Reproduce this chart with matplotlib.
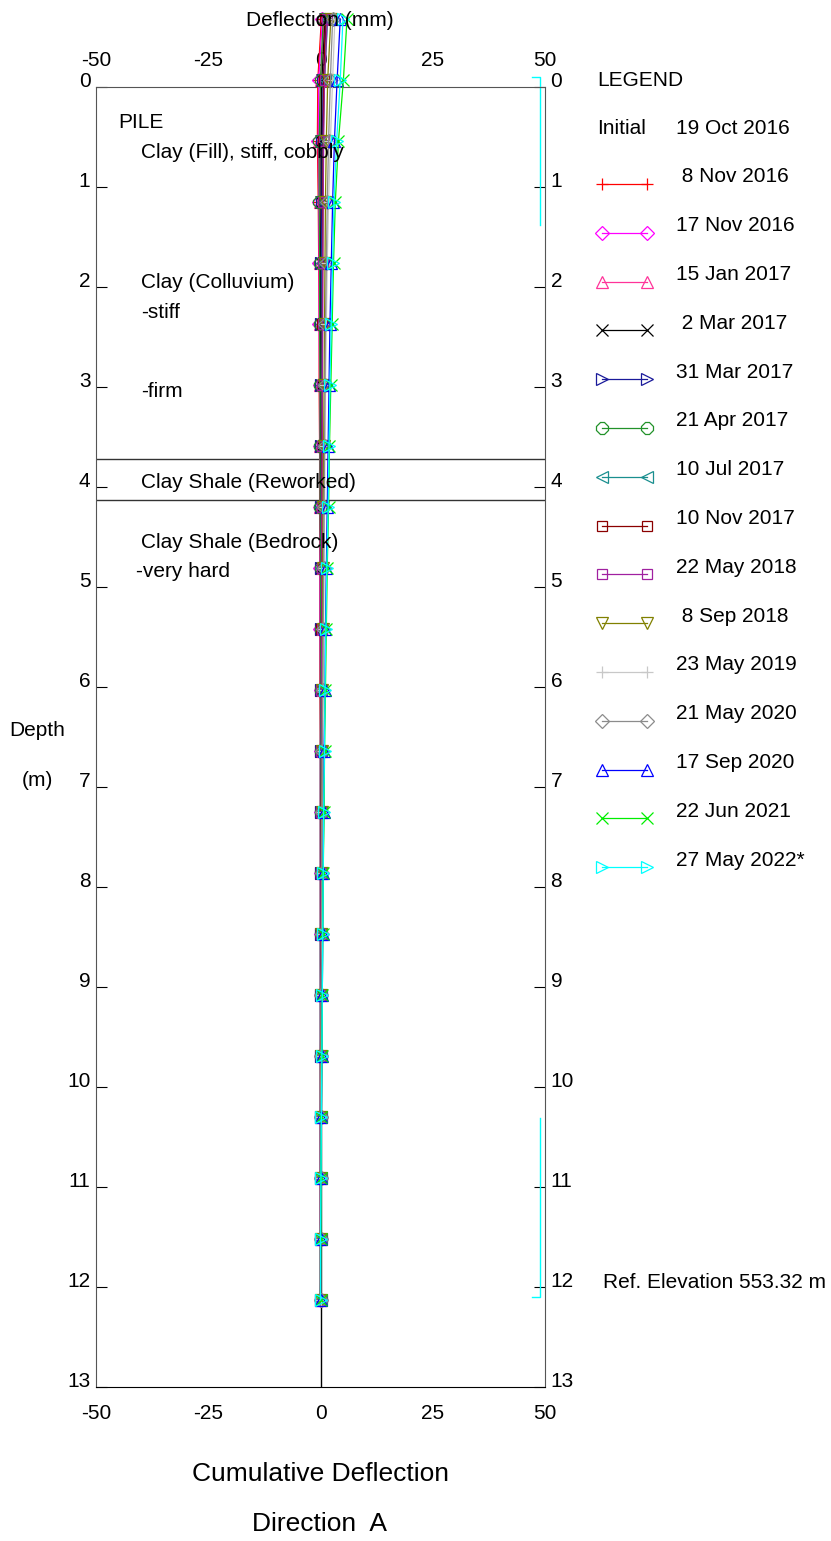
import matplotlib
matplotlib.use("Agg")
import matplotlib.pyplot as plt
import numpy as np

plt.rcParams['font.family'] = ['Liberation Sans', 'DejaVu Sans']
plt.rcParams['axes.unicode_minus'] = False

W, H = 831, 1541

# depth of each reading (m), top to bottom
depths = [-0.68, -0.07, 0.54, 1.15, 1.76, 2.37, 2.98, 3.59, 4.20, 4.81, 5.42,
          6.03, 6.64, 7.25, 7.86, 8.47, 9.08, 9.69, 10.30, 10.91, 11.52, 12.13]

dates = [" 8 Nov 2016", "17 Nov 2016", "15 Jan 2017", " 2 Mar 2017", "31 Mar 2017",
         "21 Apr 2017", "10 Jul 2017", "10 Nov 2017", "22 May 2018", " 8 Sep 2018",
         "23 May 2019", "21 May 2020", "17 Sep 2020", "22 Jun 2021", "27 May 2022*"]
colors = ["#ff0000", "#ff00ff", "#ff3399", "#000000", "#1a1a9a",
          "#22922a", "#1a8f8f", "#8b0000", "#a020a0", "#808000",
          "#c8c8c8", "#8c8c8c", "#0000ff", "#00ee00", "#00ffff"]
markers = ["+", "D", "^", "x", ">", "8", "<", "s", "s", "v", "+", "D", "^", "x", ">"]

# cumulative deflection (mm) per reading, top to bottom
defl = [
    [0.2, -0.6, -0.7, -0.5, -0.4, -0.3, -0.3, -0.2, -0.2, -0.1, -0.1, -0.1, 0.0, 0.0, 0.0, 0.0, 0.0, 0.0, 0.0, 0.0, 0.0, 0.0],
    [0.4, -0.4, -0.5, -0.4, -0.3, -0.3, -0.2, -0.2, -0.1, -0.1, -0.1, 0.0, 0.0, 0.0, 0.0, 0.0, 0.0, 0.0, 0.0, 0.0, 0.0, 0.0],
    [0.8, 0.0, -0.3, -0.2, -0.2, -0.2, -0.1, -0.1, -0.1, 0.0, 0.0, 0.0, 0.0, 0.0, 0.0, 0.0, 0.0, 0.0, 0.0, 0.0, 0.0, 0.0],
    [1.0, 0.3, 0.1, 0.1, 0.0, 0.0, 0.0, 0.0, 0.0, 0.0, 0.0, 0.0, 0.0, 0.0, 0.0, 0.0, 0.0, 0.0, 0.0, 0.0, 0.0, 0.0],
    [1.3, 0.6, 0.4, 0.3, 0.2, 0.2, 0.2, 0.1, 0.1, 0.1, 0.1, 0.1, 0.0, 0.0, 0.0, 0.0, 0.0, 0.0, 0.0, 0.0, 0.0, 0.0],
    [0.6, 0.0, -0.3, -0.3, -0.2, -0.2, -0.1, -0.1, -0.1, 0.0, 0.0, 0.0, 0.0, 0.0, 0.0, 0.0, 0.0, 0.0, 0.0, 0.0, 0.0, 0.0],
    [1.6, 0.9, 0.6, 0.5, 0.4, 0.4, 0.3, 0.3, 0.2, 0.2, 0.2, 0.1, 0.1, 0.1, 0.1, 0.0, 0.0, 0.0, 0.0, 0.0, 0.0, 0.0],
    [1.1, 0.7, 0.6, 0.5, 0.5, 0.4, 0.4, 0.3, 0.3, 0.3, 0.2, 0.2, 0.2, 0.1, 0.1, 0.1, 0.1, 0.0, 0.0, 0.0, 0.0, 0.0],
    [1.5, 0.9, 0.7, 0.6, 0.5, 0.5, 0.4, 0.4, 0.3, 0.3, 0.3, 0.2, 0.2, 0.2, 0.1, 0.1, 0.1, 0.1, 0.0, 0.0, 0.0, 0.0],
    [2.3, 1.6, 1.3, 1.1, 1.0, 0.9, 0.8, 0.7, 0.6, 0.5, 0.5, 0.4, 0.4, 0.3, 0.3, 0.2, 0.2, 0.1, 0.1, 0.1, 0.0, 0.0],
    [3.2, 2.7, 2.2, 1.8, 1.5, 1.3, 1.1, 1.0, 0.9, 0.8, 0.7, 0.6, 0.5, 0.4, 0.4, 0.3, 0.2, 0.2, 0.1, 0.1, 0.0, 0.0],
    [2.7, 2.2, 1.8, 1.5, 1.3, 1.1, 1.0, 0.9, 0.8, 0.7, 0.6, 0.5, 0.4, 0.4, 0.3, 0.3, 0.2, 0.2, 0.1, 0.1, 0.0, 0.0],
    [4.4, 3.7, 3.1, 2.7, 2.4, 2.1, 1.9, 1.7, 1.5, 1.3, 1.1, 1.0, 0.8, 0.7, 0.6, 0.5, 0.4, 0.3, 0.2, 0.1, 0.1, 0.0],
    [5.9, 5.1, 4.0, 3.3, 2.9, 2.6, 2.3, 2.0, 1.8, 1.5, 1.3, 1.1, 0.9, 0.8, 0.6, 0.5, 0.4, 0.3, 0.2, 0.1, 0.1, 0.0],
    [5.0, 4.4, 3.6, 3.0, 2.7, 2.4, 2.1, 1.9, 1.7, 1.4, 1.2, 1.0, 0.9, 0.7, 0.6, 0.5, 0.4, 0.3, 0.2, 0.1, 0.0, 0.0],
]

# strata boundaries (m) and notes
boundaries = [3.72, 4.13]
notes = [("PILE", 118, 122), ("Clay (Fill), stiff, cobbly", 141, 152),
         ("Clay (Colluvium)", 141, 282), ("-stiff", 141, 312), ("-firm", 141, 392),
         ("Clay Shale (Reworked)", 141, 482), ("Clay Shale (Bedrock)", 141, 542),
         ("-very hard", 136, 572)]

FS = 15


def fx(x):
    return x / W


def fy(y):
    return 1 - y / H


fig = plt.figure(figsize=(W / 100, H / 100), dpi=100)
ax = fig.add_axes([fx(96), fy(1387), fx(545) - fx(96), fy(87) - fy(1387)])

ax.axvline(0, color="black", lw=1.0, zorder=1)
for b in boundaries:
    ax.axhline(b, color="#333333", lw=1.0)

for d, c, m in zip(defl, colors, markers):
    ms = 7 if m in ("D", "s") else 9
    ax.plot(d, depths, color=c, lw=0.9, marker=m, ms=ms, mfc="none",
            mew=0.9, clip_on=False, zorder=3)

# casing brackets on the right
ax.plot([47.2, 48.9, 48.9], [-0.1, -0.1, 1.38], color="cyan", lw=1.0, clip_on=False)
ax.plot([48.9, 48.9, 47.2], [10.31, 12.1, 12.1], color="cyan", lw=1.0, clip_on=False)

ax.set_xlim(-50, 50)
ax.set_ylim(13, 0)
ax.set_xticks([-50, -25, 0, 25, 50])
ax.set_yticks(range(14))
ax.tick_params(axis="y", direction="in", length=8, left=True, right=True,
               labelleft=True, labelright=True, labelsize=FS, pad=4)
ax.tick_params(axis="x", length=0, top=False, bottom=False,
               labeltop=True, labelbottom=True, labelsize=FS, pad=12)
for lbl in ax.get_yticklabels():
    lbl.set_va("baseline")
for s in ["left", "right", "top"]:
    ax.spines[s].set_color("#555555")
ax.spines["bottom"].set_color("black")

for txt, x, y in notes:
    fig.text(fx(x), fy(y), txt, fontsize=FS, ha="left", va="center")

fig.text(fx(320), fy(20), "Deflection (mm)", fontsize=FS, ha="center", va="center")
fig.text(fx(37), fy(730), "Depth", fontsize=FS, ha="center", va="center")
fig.text(fx(37), fy(780), "(m)", fontsize=FS, ha="center", va="center")
fig.text(fx(320), fy(1474), "Cumulative Deflection", fontsize=19, ha="center", va="center")
fig.text(fx(320), fy(1524), "Direction  A", fontsize=19, ha="center", va="center")
fig.text(fx(603), fy(1282), "Ref. Elevation 553.32 m", fontsize=15, ha="left", va="center")

# legend
fig.text(fx(597), fy(80), "LEGEND", fontsize=FS, ha="left", va="center")
fig.text(fx(597), fy(128), "Initial", fontsize=FS, ha="left", va="center")
fig.text(fx(676), fy(128), "19 Oct 2016", fontsize=FS, ha="left", va="center")
lax = fig.add_axes([0, 0, 1, 1], facecolor="none")
lax.set_xlim(0, W)
lax.set_ylim(H, 0)
lax.axis("off")
for i, (lab, c, m) in enumerate(zip(dates, colors, markers)):
    y = 177 + i * 48.8
    ms = 7 if m in ("D", "s") else 9
    lax.plot([602, 647], [y + 7, y + 7], color=c, lw=0.9, marker=m, ms=ms,
             mfc="none", mew=0.9)
    fig.text(fx(676), fy(y), lab, fontsize=FS, ha="left", va="center")

fig.savefig("out.png", dpi=100)
